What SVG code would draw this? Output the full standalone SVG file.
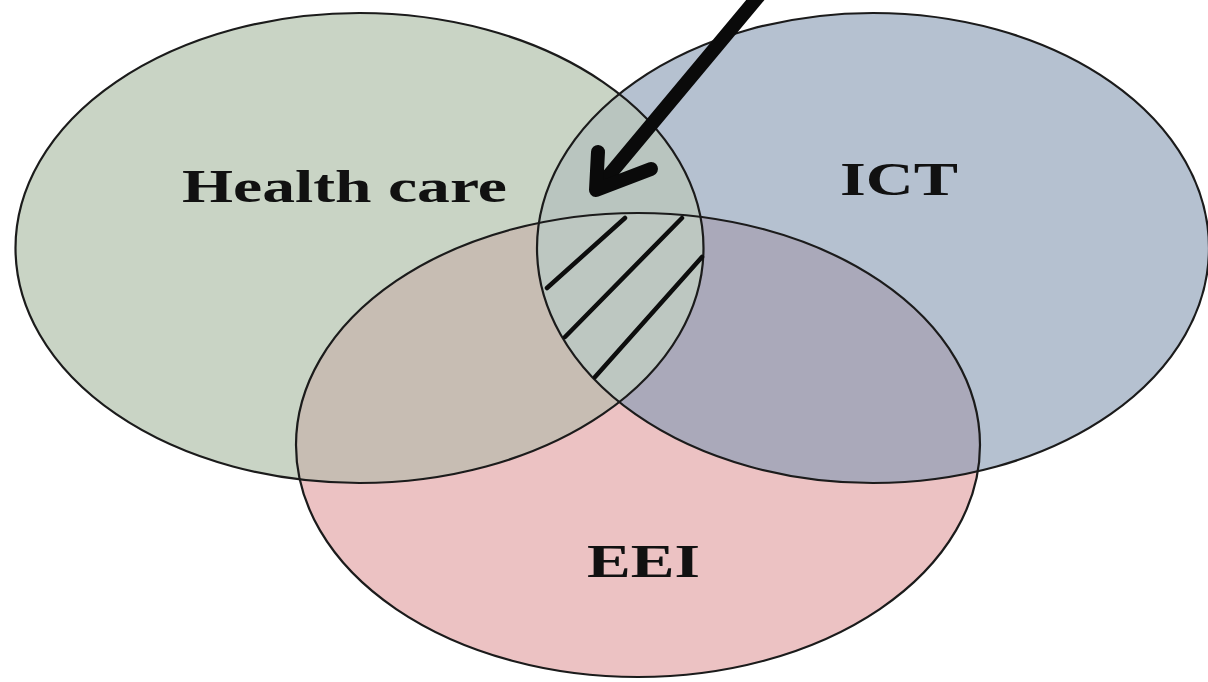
<svg xmlns="http://www.w3.org/2000/svg" width="1208" height="682" viewBox="0 0 1208 682">
  <style>
    .outline { fill: none; stroke: #1b1b1b; stroke-width: 2.2; }
    .label { font-family: "Liberation Serif", "Times New Roman", serif; font-weight: bold; font-size: 47px; fill: #111111; }
    .hatch { stroke: #0d0d0d; stroke-width: 4.5; stroke-linecap: round; fill: none; }
    .arrow { stroke: #0a0a0a; stroke-width: 14; stroke-linecap: round; stroke-linejoin: round; fill: none; }
  </style>
  <defs>
    <clipPath id="clipG"><ellipse cx="359.5" cy="248" rx="344" ry="235"/></clipPath>
    <clipPath id="clipB"><ellipse cx="873" cy="248" rx="336" ry="235"/></clipPath>
  </defs>
  <rect width="1208" height="682" fill="#ffffff"/>

  <g id="node-health-care">
    <ellipse cx="359.5" cy="248" rx="344" ry="235" fill="#c9d4c5"/>
    <text class="label" x="182" y="202" textLength="325" lengthAdjust="spacingAndGlyphs">Health care</text>
  </g>
  <g id="node-ict">
    <ellipse cx="873" cy="248" rx="336" ry="235" fill="#b5c1d0"/>
    <text class="label" x="840" y="195" textLength="118" lengthAdjust="spacingAndGlyphs">ICT</text>
  </g>
  <g id="node-eei">
    <ellipse cx="638" cy="445" rx="342" ry="232" fill="#ecc2c3"/>
    <text class="label" x="587" y="577" textLength="113" lengthAdjust="spacingAndGlyphs">EEI</text>
  </g>

  <g id="overlaps">
    <ellipse cx="873" cy="248" rx="336" ry="235" fill="#b9c5bf" clip-path="url(#clipG)"/>
    <ellipse cx="638" cy="445" rx="342" ry="232" fill="#c7bdb3" clip-path="url(#clipG)"/>
    <ellipse cx="638" cy="445" rx="342" ry="232" fill="#aaa9ba" clip-path="url(#clipB)"/>
    <g clip-path="url(#clipG)">
      <ellipse cx="638" cy="445" rx="342" ry="232" fill="#bdc7c1" clip-path="url(#clipB)"/>
    </g>
  </g>

  <g id="outlines">
    <ellipse class="outline" cx="359.5" cy="248" rx="344" ry="235"/>
    <ellipse class="outline" cx="873" cy="248" rx="336" ry="235"/>
    <ellipse class="outline" cx="638" cy="445" rx="342" ry="232"/>
  </g>

  <g id="hatching">
    <line class="hatch" x1="547" y1="288" x2="625" y2="218"/>
    <line class="hatch" x1="565" y1="337" x2="682" y2="218"/>
    <line class="hatch" x1="595" y1="377" x2="702" y2="257"/>
  </g>

  <g id="connectors">
    <path class="arrow" d="M 762 -8 L 600 186"/>
    <path class="arrow" d="M 598 152 L 596 190 L 651 169"/>
  </g>
</svg>
